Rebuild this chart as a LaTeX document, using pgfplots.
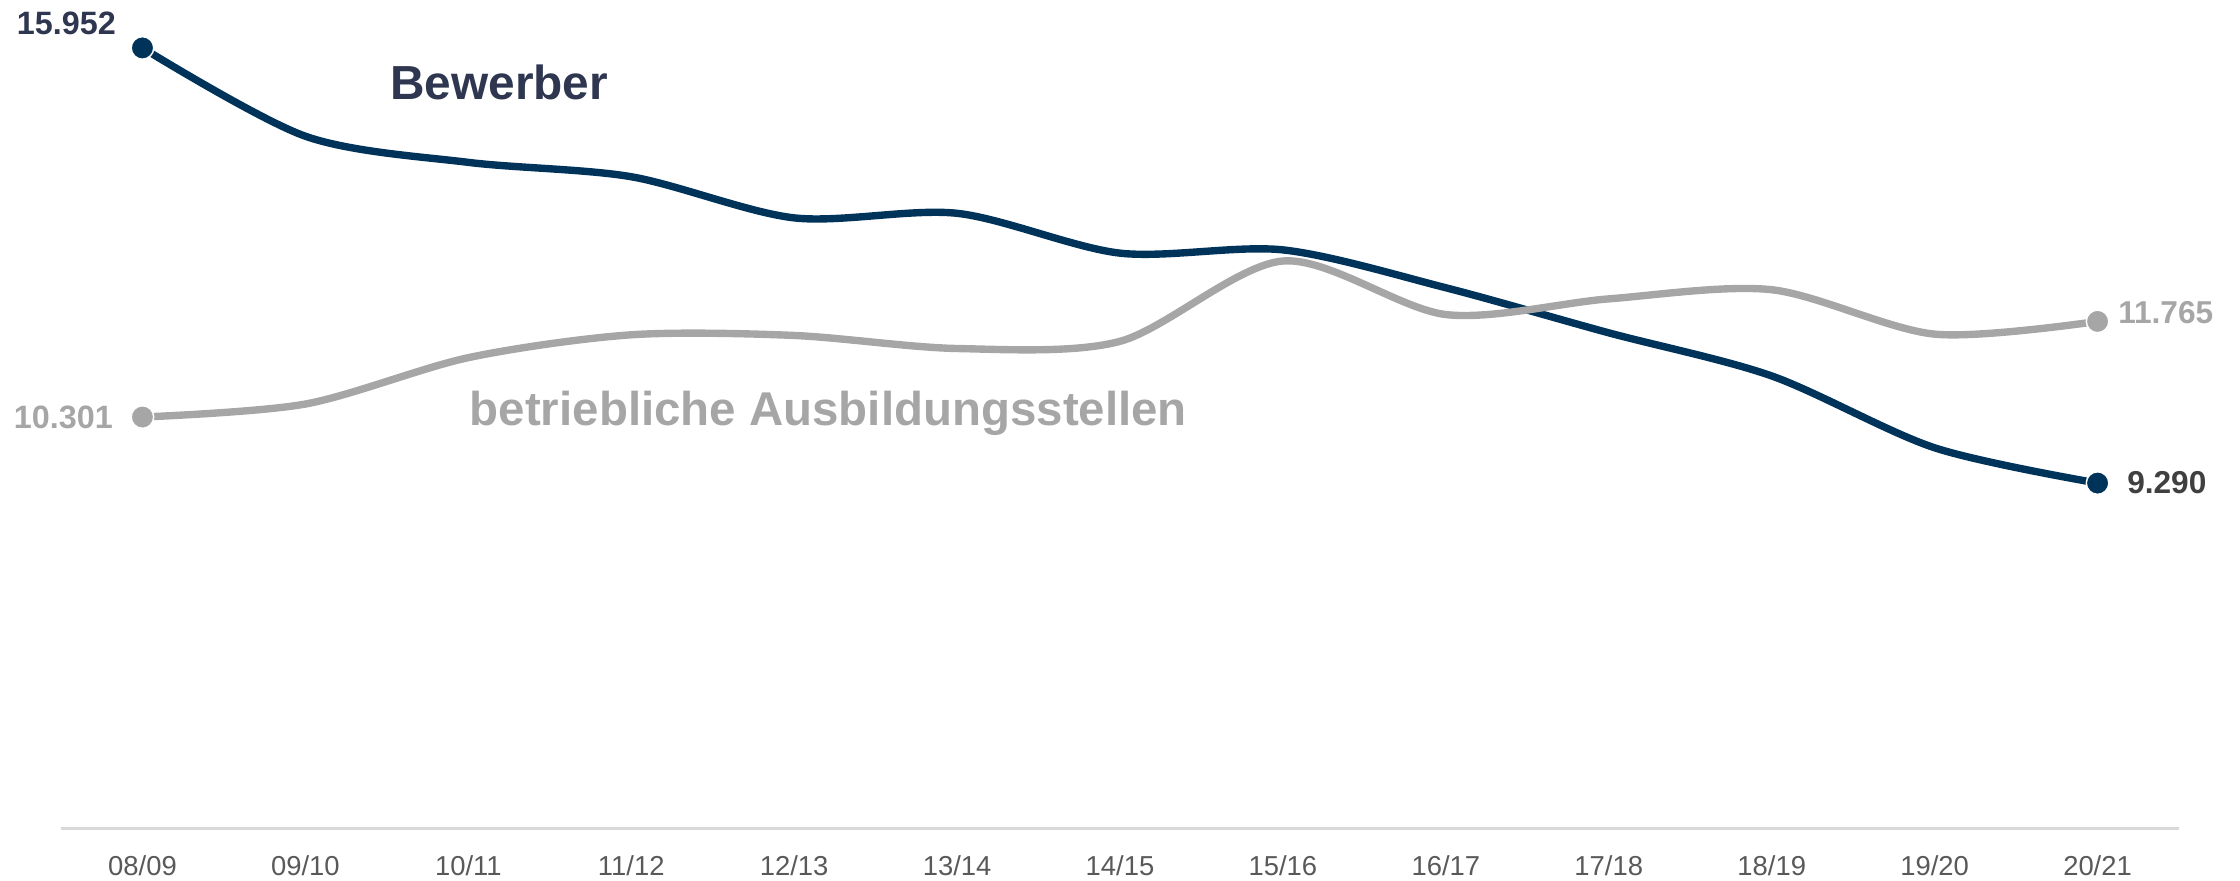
\documentclass[border=0pt]{standalone}
\usepackage{pgfplots}
\pgfplotsset{compat=1.18}
\usepackage{fontspec}
\setmainfont{Liberation Sans}
\definecolor{navy}{HTML}{003359}
\definecolor{lgray}{HTML}{A6A6A6}
\definecolor{labdark}{HTML}{2E3650}
\definecolor{tickc}{HTML}{595959}
\definecolor{axisc}{HTML}{D9D9D9}
\definecolor{darkgr}{HTML}{404040}
\begin{document}
\begin{tikzpicture}
\useasboundingbox (-0.61,-0.524) rectangle (21.79,8.286);
\begin{axis}[
  at={(0,0)}, anchor=south west,
  scale only axis, width=21.18cm, height=7.838cm,
  xmin=-0.5, xmax=12.5, ymin=4, ymax=16,
  clip=false,
  axis x line=bottom, axis y line=none,
  axis line style={-, draw=axisc, line width=0.7pt},
  xtick={0,...,12}, major tick length=0pt,
  xticklabels={08/09,09/10,10/11,11/12,12/13,13/14,14/15,15/16,16/17,17/18,18/19,19/20,20/21},
  xticklabel style={font=\fontsize{7.8}{9}\selectfont, text=tickc, yshift=-0.15cm},
  ytick=\empty,
]
\addplot[navy, line width=2.1pt, smooth, tension=0.5] coordinates {
 (0,15.952) (1,14.60) (2,14.20) (3,13.98) (4,13.35) (5,13.42) (6,12.81)
 (7,12.86) (8,12.28) (9,11.59) (10,10.93) (11,9.83) (12,9.290)};
\addplot[lgray, line width=2.1pt, smooth, tension=0.5] coordinates {
 (0,10.301) (1,10.50) (2,11.21) (3,11.56) (4,11.55) (5,11.35) (6,11.46)
 (7,12.69) (8,11.87) (9,12.11) (10,12.25) (11,11.57) (12,11.765)};
\addplot[only marks, mark=*, mark size=3.2pt, mark options={fill=navy, draw=white, line width=0.4pt}] coordinates {(0,15.952) (12,9.290)};
\addplot[only marks, mark=*, mark size=3.2pt, mark options={fill=lgray, draw=white, line width=0.4pt}] coordinates {(0,10.301) (12,11.765)};
\node[anchor=base east, inner sep=0pt, font=\bfseries\fontsize{9.2}{11}\selectfont, text=labdark] at ([xshift=-0.26cm, yshift=0.13cm]axis cs:0,15.952) {15.952};
\node[anchor=east, inner sep=0pt, font=\bfseries\fontsize{9.2}{11}\selectfont, text=lgray] at ([xshift=-0.29cm]axis cs:0,10.301) {10.301};
\node[anchor=west, inner sep=0pt, font=\bfseries\fontsize{9}{11}\selectfont, text=lgray] at ([xshift=0.2cm, yshift=0.09cm]axis cs:12,11.765) {11.765};
\node[anchor=west, inner sep=0pt, font=\bfseries\fontsize{9}{11}\selectfont, text=darkgr] at ([xshift=0.29cm]axis cs:12,9.290) {9.290};
\node[inner sep=0pt, font=\bfseries\fontsize{13.6}{16}\selectfont, text=labdark] at (axis cs:2.19,15.42) {Bewerber};
\node[inner sep=0pt, font=\bfseries\fontsize{13.5}{16}\selectfont, text=lgray] at (axis cs:4.21,10.36) {betriebliche Ausbildungsstellen};
\end{axis}
\end{tikzpicture}
\end{document}
